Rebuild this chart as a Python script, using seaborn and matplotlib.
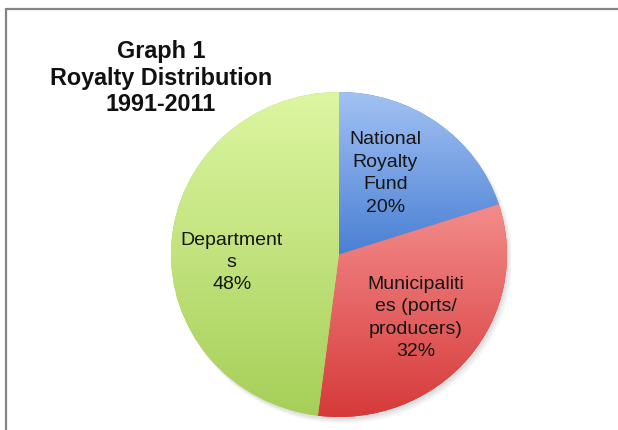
import numpy as np
import matplotlib
matplotlib.use("Agg")
import matplotlib.pyplot as plt
from matplotlib.colors import LinearSegmentedColormap
from matplotlib.lines import Line2D
import seaborn as sns

# Royalty distribution shares, 1991-2011
categories = ["National\nRoyalty\nFund", "Municipaliti\nes (ports/\nproducers)", "Department\ns"]
shares = [20, 32, 48]

# light (top) and dark (bottom) shade of each slice
top_colors = ["#a3c2f3", "#f38c8b", "#ddf6a2"]
bottom_colors = ["#4a80d4", "#d63a3a", "#a6cf58"]

sns.set_theme(style="white")
plt.rcParams["font.family"] = ["Liberation Sans", "DejaVu Sans"]

W, H = 618, 430
fig = plt.figure(figsize=(W / 100, H / 100), dpi=100)
fig.patch.set_facecolor("white")

# pie centre and radii in pixels (slightly wider than tall)
cx, cy = 339, 430 - 254.5
rx, ry = 168, 162.5
half = 172
ax = fig.add_axes([(cx - half) / W, (cy - half) / H, 2 * half / W, 2 * half / H])

wedges, _ = ax.pie(shares, startangle=90, counterclock=False, radius=1,
                   colors=bottom_colors,
                   wedgeprops=dict(linewidth=0, edgecolor="none"))
ax.set_aspect("auto")
ax.axis("off")

# soft drop shadow under the pie
for k, a in enumerate([0.05, 0.04, 0.03]):
    sh = plt.matplotlib.patches.Ellipse((0.012 + 0.006 * k, -0.018 - 0.006 * k),
                                        2.0 + 0.01 * k, 2.0 + 0.01 * k,
                                        facecolor="black", alpha=a,
                                        edgecolor="none", zorder=0.5)
    ax.add_patch(sh)

# vertical gradient fill clipped to each wedge, light at the top
grad = np.linspace(0, 1, 256).reshape(-1, 1)
for w, c0, c1 in zip(wedges, top_colors, bottom_colors):
    ext = w.get_path().get_extents()
    cmap = LinearSegmentedColormap.from_list("g", [c0, c1])
    im = ax.imshow(grad, cmap=cmap, aspect="auto",
                   extent=[ext.x0, ext.x1, ext.y0, ext.y1],
                   origin="upper", interpolation="bilinear", zorder=2)
    im.set_clip_path(w)
ax.set_xlim(-half / rx, half / rx)
ax.set_ylim(-half / ry, half / ry)

# slice labels placed along each wedge's mid-angle
label_radius = [0.57, 0.60, 0.64]
label_shift = [7, -1, 8]
for w, name, val, r, dth in zip(wedges, categories, shares, label_radius, label_shift):
    mid = np.deg2rad((w.theta1 + w.theta2) / 2 + dth)
    ax.text(r * np.cos(mid), r * np.sin(mid), f"{name}\n{val}%",
            ha="center", va="center", fontsize=14, color="#151515",
            linespacing=1.42, zorder=5)

fig.text(161 / W, 1 - 78 / H, "Graph 1\nRoyalty Distribution\n1991-2011",
         ha="center", va="center", fontsize=16.8, fontweight="bold",
         color="#111111", linespacing=1.22)

# frame lines along top and left edges
fig.add_artist(Line2D([5.5 / W, 1], [1 - 8.5 / H, 1 - 8.5 / H],
                      transform=fig.transFigure, color="#848484", lw=1.6))
fig.add_artist(Line2D([5.5 / W, 5.5 / W], [0, 1 - 8.5 / H],
                      transform=fig.transFigure, color="#848484", lw=1.6))

fig.savefig("out.png", dpi=100, facecolor="white")
